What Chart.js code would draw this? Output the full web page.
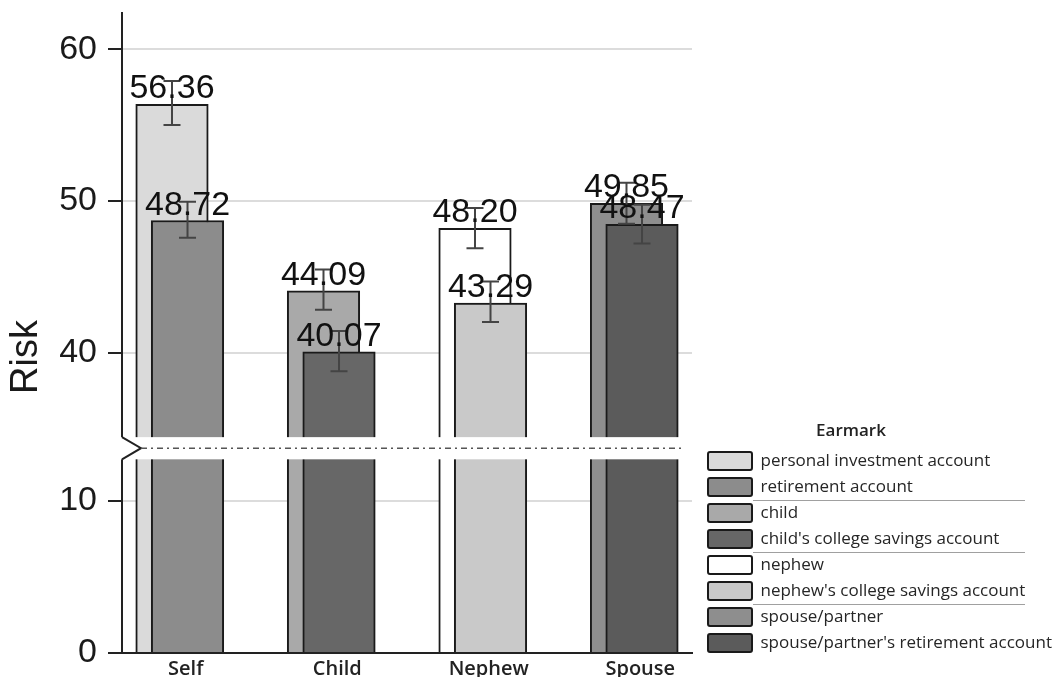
<!DOCTYPE html>
<html>
<head>
<meta charset="utf-8">
<script src="https://cdn.jsdelivr.net/npm/chart.js@4/dist/chart.umd.min.js"></script>
<style>
  html, body { margin: 0; padding: 0; background: #ffffff; }
  #c { display: block; }
</style>
</head>
<body>
<canvas id="c" width="1056" height="677"></canvas>
<script>
// ---------- data ----------
const categories = ['Self', 'Child', 'Nephew', 'Spouse'];
const earmarks = [
  'personal investment account',
  'retirement account',
  'child',
  "child's college savings account",
  'nephew',
  "nephew's college savings account",
  'spouse/partner',
  "spouse/partner's retirement account"
];
const earmarkCategory = [0, 0, 1, 1, 2, 2, 3, 3];
const earmarkIsFront = [false, true, false, true, false, true, false, true];
const riskMeans = [56.36, 48.72, 44.09, 40.07, 48.20, 43.29, 49.85, 48.47];
const ciLow  = [55.00, 47.58, 42.84, 38.80, 46.90, 42.04, 48.50, 47.20];
const ciHigh = [57.90, 49.95, 45.50, 41.45, 49.55, 44.70, 51.20, 49.75];
const yTickLabels = [0, 10, 40, 50, 60];
const fills = ['#dadada', '#8c8c8c', '#a9a9a9', '#676767', '#ffffff', '#c9c9c9', '#8e8e8e', '#5b5b5b'];

// ---------- layout constants ----------
const DODGE = 0.0512;       // overlap offset of the two bars in a group (x-axis units)
const BREAK_FROM = 30;      // values above this live on the upper segment
const BREAK_SHIFT = 20.25;  // upper segment is shifted down by this amount
const BREAK_AXIS = 13.48;   // axis position of the break mark
const BREAK_HALF = 0.73;    // half height of the white gap (axis units)
const toAxis = v => (v >= BREAK_FROM ? v - BREAK_SHIFT : v);

const datasets = earmarks.map((name, i) => ({
  label: name,
  data: [{ x: earmarkCategory[i] + 1 + (earmarkIsFront[i] ? DODGE : -DODGE), y: toAxis(riskMeans[i]) }],
  backgroundColor: fills[i],
  borderColor: '#1a1a1a',
  borderWidth: 2,
  borderSkipped: 'bottom',
  grouped: false,
  barThickness: 72.5,
  order: earmarkIsFront[i] ? 0 : 1
}));

const zeroPad = s => { s.paddingTop = 0; s.paddingBottom = 0; s.paddingLeft = 0; s.paddingRight = 0; };

const decorations = {
  id: 'decorations',
  afterDatasetsDraw(chart) {
    const { ctx, chartArea: ca, scales: { y } } = chart;
    const yTop = y.getPixelForValue(BREAK_AXIS + BREAK_HALF);
    const yBot = y.getPixelForValue(BREAK_AXIS - BREAK_HALF);
    const yMid = y.getPixelForValue(BREAK_AXIS);
    ctx.save();
    ctx.fillStyle = '#ffffff';
    ctx.fillRect(ca.left - 4, yTop, ca.right - ca.left + 4, yBot - yTop);
    ctx.strokeStyle = '#222222';
    ctx.lineWidth = 2;
    ctx.beginPath();
    ctx.moveTo(ca.left, yTop);
    ctx.lineTo(ca.left + 19, yMid);
    ctx.lineTo(ca.left, yBot);
    ctx.stroke();
    ctx.strokeStyle = '#555555';
    ctx.lineWidth = 1.6;
    ctx.setLineDash([6, 4, 2, 4]);
    ctx.beginPath();
    ctx.moveTo(ca.left + 19, yMid);
    ctx.lineTo(ca.right - 9, yMid);
    ctx.stroke();
    ctx.setLineDash([]);

    chart.data.datasets.forEach((ds, i) => {
      const bar = chart.getDatasetMeta(i).data[0];
      if (!bar) return;
      const yh = y.getPixelForValue(toAxis(ciHigh[i]));
      const yl = y.getPixelForValue(toAxis(ciLow[i]));
      ctx.strokeStyle = '#444444';
      ctx.lineWidth = 2;
      ctx.beginPath();
      ctx.moveTo(bar.x, yl); ctx.lineTo(bar.x, yh);
      ctx.moveTo(bar.x - 8.5, yh); ctx.lineTo(bar.x + 8.5, yh);
      ctx.moveTo(bar.x - 8.5, yl); ctx.lineTo(bar.x + 8.5, yl);
      ctx.stroke();
      ctx.fillStyle = '#111111';
      ctx.font = "34px 'Liberation Sans', Arial, sans-serif";
      ctx.textAlign = 'center';
      ctx.textBaseline = 'alphabetic';
      ctx.fillText(riskMeans[i].toFixed(2), bar.x, bar.y - 6);
    });
    ctx.restore();
  },
  afterDraw(chart) {
    const { ctx, chartArea: ca } = chart;
    ctx.save();
    // y axis title
    ctx.translate(27, (ca.top + ca.bottom) / 2 + 24);
    ctx.rotate(-Math.PI / 2);
    ctx.fillStyle = '#1a1a1a';
    ctx.font = "38px 'Liberation Sans', Arial, sans-serif";
    ctx.textAlign = 'center';
    ctx.textBaseline = 'middle';
    ctx.fillText('Risk', 0, 0);
    ctx.restore();

    // legend title + group separators
    const hb = chart.legend.legendHitBoxes;
    if (hb && hb.length) {
      ctx.save();
      ctx.fillStyle = '#222222';
      ctx.font = "600 17px 'Open Sans', sans-serif";
      ctx.textAlign = 'center';
      ctx.textBaseline = 'middle';
      ctx.fillText('Earmark', hb[0].left + 143, hb[0].top - 21);
      ctx.strokeStyle = '#a0a0a0';
      ctx.lineWidth = 1;
      [2, 4, 6].forEach(k => {
        const yy = Math.round(hb[k].top - 4.5) + 0.5;
        ctx.beginPath();
        ctx.moveTo(hb[0].left + 45, yy);
        ctx.lineTo(hb[0].left + 317, yy);
        ctx.stroke();
      });
      ctx.restore();
    }
  }
};

new Chart(document.getElementById('c'), {
  type: 'bar',
  data: { datasets },
  plugins: [decorations],
  options: {
    responsive: false,
    animation: false,
    devicePixelRatio: 1,
    layout: { padding: { top: 13, bottom: 17, left: 0, right: 0 } },
    plugins: {
      tooltip: { enabled: false },
      legend: {
        position: 'right',
        align: 'end',
        maxWidth: 356,
        labels: {
          boxWidth: 44,
          boxHeight: 18,
          padding: 8,
          color: '#262626',
          useBorderRadius: true,
          borderRadius: 2,
          font: { family: "'Open Sans', sans-serif", size: 17 },
          sort: (a, b) => a.datasetIndex - b.datasetIndex
        }
      }
    },
    scales: {
      x: {
        type: 'linear',
        min: 0.6188,
        max: 4.3812,
        offset: false,
        grid: { display: false, drawTicks: false },
        border: { display: true, color: '#222222', width: 2 },
        afterBuildTicks: s => { s.ticks = categories.map((c, i) => ({ value: i + 1 })); },
        afterFit: s => { s.height = 7; zeroPad(s); },
        ticks: {
          autoSkip: false,
          maxRotation: 0,
          mirror: true,
          padding: -28.5,
          labelOffset: 6,
          color: '#222222',
          font: { family: "'Open Sans', sans-serif", size: 20, weight: 600 },
          callback: v => categories[Math.round(v) - 1]
        }
      },
      y: {
        type: 'linear',
        min: 0,
        max: 42.13,
        afterBuildTicks: s => { s.ticks = yTickLabels.map(v => ({ value: toAxis(v) })); },
        afterFit: s => { s.width = 122; zeroPad(s); },
        ticks: {
          autoSkip: false,
          padding: 11,
          color: '#1a1a1a',
          font: { family: "'Liberation Sans', Arial, sans-serif", size: 34 },
          callback: (v, i) => yTickLabels[i]
        },
        grid: {
          color: c => (c.tick && c.tick.value === 0) ? 'rgba(0,0,0,0)' : '#dcdcdc',
          lineWidth: 2,
          drawTicks: true,
          tickLength: 14,
          tickColor: '#222222',
          tickWidth: 2
        },
        border: { color: '#222222', width: 2 }
      },
      gap: {
        type: 'linear',
        position: 'right',
        display: true,
        grid: { display: false, drawTicks: false },
        border: { display: false },
        ticks: { display: false },
        afterFit: s => { s.width = 8; zeroPad(s); }
      }
    }
  }
});
</script>
</body>
</html>
